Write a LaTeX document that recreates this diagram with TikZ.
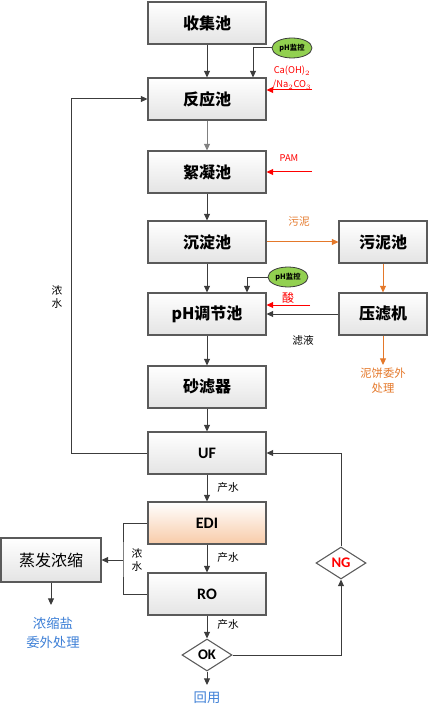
\documentclass[tikz,border=0pt]{standalone}
\usepackage{fontspec}
\setmainfont{Carlito}
\newfontfamily\cjk{Noto Sans CJK SC}
\usetikzlibrary{arrows.meta,shapes.geometric,calc}
\definecolor{boxline}{HTML}{5A5A5A}
\definecolor{boxgray}{HTML}{E4E4E4}
\definecolor{peach}{HTML}{F8CBA8}
\definecolor{flowgray}{HTML}{3C3C3C}
\definecolor{sludgeorange}{HTML}{E4782A}
\definecolor{reuseblue}{HTML}{3D7FD6}
\definecolor{tagfill}{HTML}{92D050}
\tikzset{
    process box/.style={
        draw=boxline, line width=0.8pt,
        top color=white, bottom color=boxgray,
        minimum width=88.5pt, minimum height=31.5pt,
        font=\cjk\bfseries\fontsize{12}{14}\selectfont
    },
    latin box/.style={
        process box,
        font=\bfseries\fontsize{12}{14}\selectfont
    },
    check point/.style={
        diamond, draw=boxline, line width=0.8pt, fill=white,
        aspect=1.6, inner sep=1pt,
        minimum width=37.5pt, minimum height=24pt,
        font=\bfseries\fontsize{11}{12}\selectfont
    },
    monitor tag/.style={
        ellipse, draw=flowgray, line width=0.6pt, fill=tagfill,
        minimum width=30pt, minimum height=15pt, inner sep=0pt,
        font=\cjk\bfseries\fontsize{5.5}{6}\selectfont
    },
    note/.style={
        inner sep=0pt, align=center,
        font=\cjk\fontsize{8}{10}\selectfont
    },
    flow/.style={
        draw=flowgray, line width=0.75pt,
        -{Triangle[length=5pt,width=4.5pt]}
    },
    dose/.style={flow, draw=red},
    sludge flow/.style={flow, draw=sludgeorange}
}
\begin{document}
\begin{tikzpicture}[x=0.75pt,y=-0.75pt]
\useasboundingbox (0,0) rectangle (432,716);
% main line
\node[process box] (collect) at (207,23) {收集池};
\node[process box] (react) at (207,99) {反应池};
\node[process box] (floc) at (207,172) {絮凝池};
\node[process box] (settle) at (207,242) {沉淀池};
\node[process box] (phtank) at (207,314) {pH调节池};
\node[process box] (sand) at (207,387) {砂滤器};
\node[latin box] (uf) at (207,453) {UF};
\node[latin box, top color=white, bottom color=peach] (edi) at (207,523) {EDI};
\node[latin box] (ro) at (207,594) {RO};
\node[check point] (ok) at (207,655) {OK};
\node[check point, text=red] (ng) at (341,563) {NG};
% side line
\node[process box, minimum width=66pt] (sludge) at (383,242) {污泥池};
\node[process box, minimum width=66pt] (press) at (383,314) {压滤机};
\node[process box, minimum width=75pt, minimum height=33pt,
      font=\cjk\fontsize{12}{14}\selectfont] (evap) at (51,560) {蒸发浓缩};
% dosing and monitoring
\node[monitor tag] (mon1) at (292,48) {pH监控};
\node[monitor tag] (mon2) at (288,277) {pH监控};
\node[note, text=red, font=\cjk\fontsize{7}{8}\selectfont] (caoh) at (292,71) {Ca(OH)$_2$};
\node[note, text=red, font=\cjk\fontsize{7}{8}\selectfont] (naco) at (292,85) {/Na$_2$CO$_3$};
\node[note, text=red, font=\cjk\fontsize{7}{8}\selectfont] (pam) at (289,158) {PAM};
\node[note, text=red, font=\cjk\fontsize{9}{10}\selectfont] (acid) at (288,298) {酸};
\coordinate (dose1) at (312,90);
\coordinate (dose2) at (312,172);
\coordinate (dose3) at (310,305);
% labels
\node[note, text=sludgeorange] (sludgelbl) at (299,222) {污泥};
\node[note] (filtrate) at (303,340) {滤液};
\node[note, text=sludgeorange, font=\cjk\fontsize{8.5}{11}\selectfont] (cake) at (383,381) {泥饼委外\\处理};
\node[note] (conc1) at (57,297) {浓\\水};
\node[note] (conc2) at (137,560) {浓\\水};
\node[note] (prod1) at (228,487) {产水};
\node[note] (prod2) at (228,557) {产水};
\node[note] (prod3) at (228,624) {产水};
\node[note, text=reuseblue, font=\cjk\fontsize{10}{14}\selectfont] (salt) at (53,633) {浓缩盐\\委外处理};
\node[note, text=reuseblue, font=\cjk\fontsize{10}{12}\selectfont] (reuse) at (207,698) {回用};
\coordinate (cakeend) at (383,365);
\coordinate (saltend) at (51,605);
\coordinate (reuseend) at (207,685);
\coordinate (bracket) at (123,560);
% connectors
\draw[flow] (collect) -- (react);
\draw[flow, draw=gray] (react) -- (floc);
\draw[flow] (floc) -- (settle);
\draw[flow] (settle) -- (phtank);
\draw[flow] (phtank) -- (sand);
\draw[flow] (sand) -- (uf);
\draw[flow] (uf) -- (edi);
\draw[flow] (edi) -- (ro);
\draw[flow] (ro) -- (ok);
\draw[flow] (ok) -- (reuseend);
\draw[flow] (mon1.west) -| ([xshift=34.5pt]react.north);
\draw[flow] (mon2.west) -| ([xshift=30pt]phtank.north);
\draw[dose] (dose1) -- (dose1 -| react.east);
\draw[dose] (dose2) -- (dose2 -| floc.east);
\draw[dose] (dose3) -- (dose3 -| phtank.east);
\draw[sludge flow] (settle) -- (sludge);
\draw[sludge flow] (sludge) -- (press);
\draw[sludge flow] (press) -- (cakeend);
\draw[flow] (press) -- (phtank);
\draw[flow] (uf.west) -- ++(-57pt,0) |- (react.west);
\draw[draw=flowgray, line width=0.75pt] (edi.west) -| (bracket) |- (ro.west);
\draw[flow] (bracket) -- (evap.east);
\draw[flow] (evap) -- (saltend);
\draw[flow] (ok.east) -| (ng.south);
\draw[flow] (ng.north) |- (uf.east);
\end{tikzpicture}
\end{document}
